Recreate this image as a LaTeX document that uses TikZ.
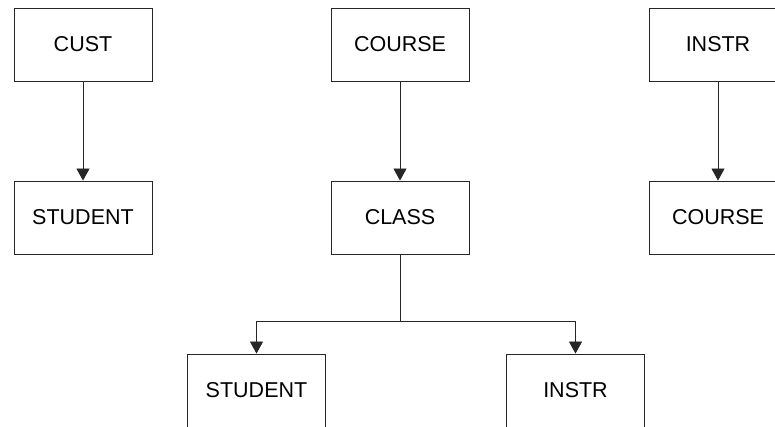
\documentclass[tikz,border=0pt]{standalone}
\usepackage{fontspec}
\setmainfont{Liberation Sans}
\usetikzlibrary{trees,arrows.meta}

\begin{document}
\begin{tikzpicture}[
			level distance=173pt,
			level 2/.style={sibling distance=319pt, every child node/.style={xshift=16pt},
				edge from parent path={(\tikzparentnode.south) -- ++(0,-67pt) -| (\tikzchildnode.north)}},
			edge from parent/.style={draw, black!85, line width=0.8pt, -{Triangle[width=13pt,length=12pt]}},
			every node/.style={draw, black!85, line width=0.8pt, minimum width=138pt, minimum height=73pt,
				text=black, font=\fontsize{21.5}{26}\selectfont} % box style for all records
			]
			\useasboundingbox (0,0) rectangle (775pt,427pt);
			% CUST owns STUDENT
			\node (cust) at (83pt,382.5pt) {CUST}
			child { node (custstudent) {STUDENT} };
			% COURSE -- CLASS -- STUDENT / INSTR
			\node (course) at (400pt,382.5pt) {COURSE}
			child { node (class) {CLASS}
				child { node (classstudent) {STUDENT} }
				child { node (classinstr) {INSTR} }
			};
			% INSTR owns COURSE
			\node (instr) at (718pt,382.5pt) {INSTR}
			child { node (instrcourse) {COURSE} };
		\end{tikzpicture}
\end{document}
